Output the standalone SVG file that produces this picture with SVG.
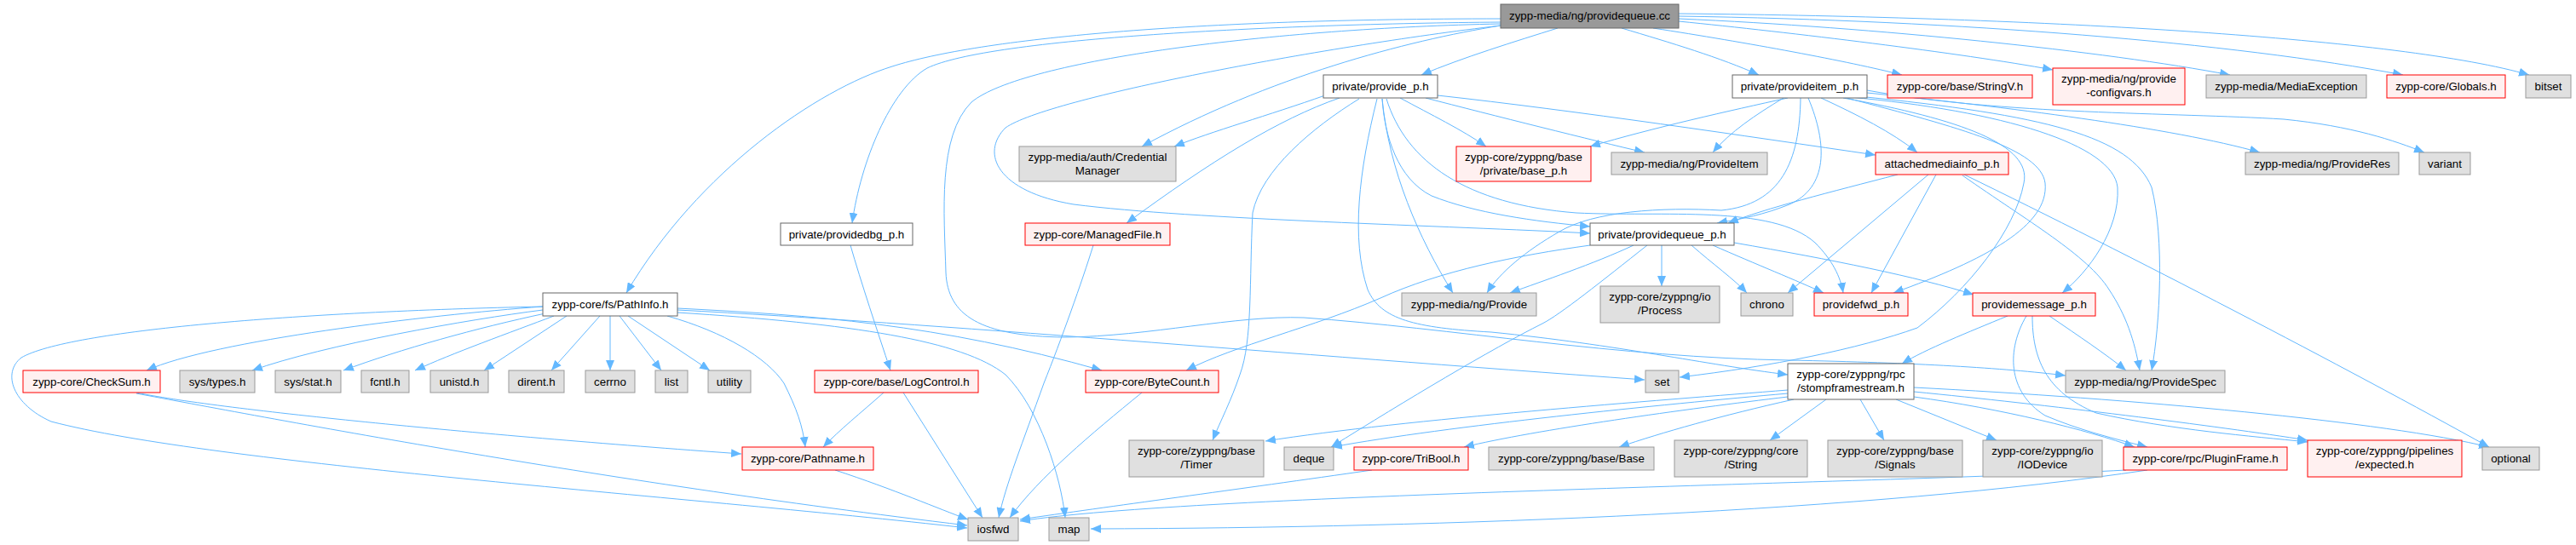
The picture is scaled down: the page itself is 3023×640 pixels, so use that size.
<svg xmlns="http://www.w3.org/2000/svg" width="3023" height="640" viewBox="0 0 3023 640">
<style>
.e{fill:none;stroke:#63b8ff;stroke-width:1;marker-end:url(#arr)}
.w rect{fill:#ffffff;stroke:#666666}
.g rect{fill:#e0e0e0;stroke:#999999}
.r rect{fill:#fff0f0;stroke:#ff0000}
.root rect{fill:#999999;stroke:#666666}
text{font-family:"Liberation Sans",Arial,Helvetica,sans-serif;font-size:13.33px;fill:#000000;text-anchor:middle}
</style>
<defs>
<marker id="arr" viewBox="0 0 12 10" refX="12" refY="5" markerWidth="12" markerHeight="10" markerUnits="userSpaceOnUse" orient="auto"><path d="M0,0L12,5L0,10z" fill="#63b8ff"/></marker>
</defs>
<rect width="3023" height="640" fill="#ffffff"/>
<g id="edges">
<path class="e" d="M1828,33 C1780,48 1715,68 1668,88"/>
<path class="e" d="M1903,33 C1960,50 2020,68 2064,88"/>
<path class="e" d="M1940,33 C2050,50 2170,72 2232,88"/>
<path class="e" d="M1970,25 C2100,38 2300,62 2409,82"/>
<path class="e" d="M1970,22 C2200,32 2470,60 2617,88"/>
<path class="e" d="M1970,19 C2300,24 2620,50 2820,88"/>
<path class="e" d="M1970,16 C2400,20 2820,45 2968,88"/>
<path class="e" d="M1761,30 C1650,48 1490,90 1340,172"/>
<path class="e" d="M1761,26 C1500,28 1160,45 1088,80 C1045,105 1010,190 1000,262"/>
<path class="e" d="M1761,22 C1400,22 1150,45 1047,78 C960,105 820,200 735,344"/>
<path class="e" d="M1761,30 C1550,55 1230,115 1180,150 C1150,180 1170,225 1260,240 C1400,258 1700,265 1866,274"/>
<path class="e" d="M1761,28 C1500,33 1200,70 1140,120 C1100,160 1108,250 1110,320 C1112,370 1150,395 1250,396 C1350,395 1450,370 1530,373 C1700,385 1900,420 2100,423 C2250,426 2350,432 2424,441"/>
<path class="e" d="M1555,112 C1490,135 1420,155 1378,172"/>
<path class="e" d="M1572,115 C1500,140 1420,190 1322,262"/>
<path class="e" d="M1595,116 C1540,150 1480,200 1470,250 C1466,330 1470,400 1455,440 C1445,470 1432,495 1423,517"/>
<path class="e" d="M1643,115 C1680,135 1715,152 1744,172"/>
<path class="e" d="M1673,115 C1750,135 1870,165 1930,179"/>
<path class="e" d="M1687,112 C1850,130 2050,160 2201,182"/>
<path class="e" d="M1622,116 C1625,160 1640,210 1680,230 C1730,250 1800,260 1866,266"/>
<path class="e" d="M1627,116 C1650,190 1720,240 1850,250 C1950,255 2080,240 2130,285 C2150,305 2160,325 2163,344"/>
<path class="e" d="M1622,116 C1630,200 1665,280 1705,344"/>
<path class="e" d="M1616,116 C1595,200 1585,280 1605,340 C1620,375 1660,385 1750,390 C1900,405 2000,428 2098,440"/>
<path class="e" d="M2098,115 C2030,130 1940,150 1866,172"/>
<path class="e" d="M2093,115 C2060,135 2030,155 2010,179"/>
<path class="e" d="M2113,115 C2112,190 2090,240 2020,247 C1950,243 1870,248 1830,272 C1790,295 1760,320 1745,344"/>
<path class="e" d="M2122,115 C2145,170 2145,220 2100,240 C2070,252 2045,257 2015,262"/>
<path class="e" d="M2137,115 C2180,135 2220,155 2250,179"/>
<path class="e" d="M2163,115 C2300,140 2385,170 2375,215 C2365,270 2310,340 2250,385 C2180,410 2080,430 1971,443"/>
<path class="e" d="M2167,115 C2300,150 2395,175 2400,215 C2405,265 2330,305 2222,344"/>
<path class="e" d="M2170,114 C2350,130 2480,170 2485,220 C2488,270 2450,320 2420,344"/>
<path class="e" d="M2180,113 C2400,135 2500,160 2525,220 C2540,280 2535,380 2525,435"/>
<path class="e" d="M2191,109 C2350,125 2550,150 2652,179"/>
<path class="e" d="M2191,106 C2350,135 2550,132 2680,140 C2760,148 2810,165 2845,179"/>
<path class="e" d="M2227,205 C2150,225 2070,245 2028,262"/>
<path class="e" d="M2263,205 L2098,344"/>
<path class="e" d="M2272,205 L2196,344"/>
<path class="e" d="M2303,206 C2380,260 2450,300 2475,340 C2495,370 2505,400 2511,435"/>
<path class="e" d="M2305,205 C2500,300 2750,430 2921,525"/>
<path class="e" d="M1917,288 C1870,310 1810,330 1772,344"/>
<path class="e" d="M1950,288 L1950,336"/>
<path class="e" d="M1985,288 C2010,310 2035,328 2050,344"/>
<path class="e" d="M2010,288 C2060,310 2110,330 2140,344"/>
<path class="e" d="M2035,285 C2150,305 2250,325 2316,346"/>
<path class="e" d="M1933,288 C1880,330 1830,370 1810,380 C1750,410 1650,470 1562,525"/>
<path class="e" d="M1866,288 C1780,300 1690,318 1620,350 C1540,385 1450,405 1392,435"/>
<path class="e" d="M2356,371 C2310,390 2260,410 2232,427"/>
<path class="e" d="M2405,371 C2440,395 2470,415 2495,435"/>
<path class="e" d="M2378,371 C2355,410 2355,460 2400,488 C2440,505 2480,515 2520,525"/>
<path class="e" d="M2385,371 C2385,420 2400,460 2460,485 C2550,505 2640,512 2708,519"/>
<path class="e" d="M2098,458 C1950,470 1650,492 1485,518"/>
<path class="e" d="M2098,462 C1950,475 1700,500 1563,525"/>
<path class="e" d="M2098,466 C1980,480 1800,505 1718,525"/>
<path class="e" d="M2105,469 C2020,488 1950,508 1900,525"/>
<path class="e" d="M2143,469 L2077,517"/>
<path class="e" d="M2183,469 L2211,517"/>
<path class="e" d="M2225,469 L2343,517"/>
<path class="e" d="M2246,466 C2350,480 2450,505 2505,525"/>
<path class="e" d="M2246,460 C2400,475 2600,500 2708,517"/>
<path class="e" d="M2246,455 C2500,468 2800,495 2921,525"/>
<path class="e" d="M2495,552 C2200,568 1400,580 1197,612"/>
<path class="e" d="M2520,552 C2200,600 1700,620 1280,621"/>
<path class="e" d="M1610,552 C1450,575 1300,595 1197,610"/>
<path class="e" d="M637,360 C500,370 250,400 172,435"/>
<path class="e" d="M637,364 C550,375 380,405 296,435"/>
<path class="e" d="M640,368 C560,385 470,410 403,435"/>
<path class="e" d="M650,371 C600,390 530,415 487,435"/>
<path class="e" d="M665,371 L568,435"/>
<path class="e" d="M704,371 L647,435"/>
<path class="e" d="M716,371 L716,435"/>
<path class="e" d="M727,371 L776,435"/>
<path class="e" d="M737,371 L833,435"/>
<path class="e" d="M783,371 C850,390 900,420 920,450 C935,480 942,500 945,525"/>
<path class="e" d="M795,362 C950,370 1100,380 1293,435"/>
<path class="e" d="M795,364 C1100,380 1500,415 1930,446"/>
<path class="e" d="M795,367 C1000,380 1130,400 1180,440 C1220,480 1245,560 1250,608"/>
<path class="e" d="M637,360 C350,366 80,388 25,420 C2,438 15,475 60,495 C250,545 800,582 1135,620"/>
<path class="e" d="M160,461 C250,480 550,510 870,533"/>
<path class="e" d="M160,462 C300,488 700,565 1135,617"/>
<path class="e" d="M980,552 C1050,575 1100,597 1136,610"/>
<path class="e" d="M1037,461 C1010,485 985,505 966,525"/>
<path class="e" d="M1060,461 L1153,608"/>
<path class="e" d="M998,288 C1010,330 1030,390 1045,435"/>
<path class="e" d="M1283,288 C1270,330 1245,400 1225,450 C1200,520 1180,570 1172,608"/>
<path class="e" d="M1340,461 C1280,510 1220,560 1185,608"/>
</g>
<g id="n_cc" class="root"><rect x="1761" y="5" width="209" height="28"/><text x="1865.5" y="23">zypp-media/ng/providequeue.cc</text></g>
<g id="n_provide_p" class="w"><rect x="1553" y="88" width="134" height="27"/><text x="1620" y="106">private/provide_p.h</text></g>
<g id="n_provideitem_p" class="w"><rect x="2033" y="88" width="158" height="27"/><text x="2112" y="106">private/provideitem_p.h</text></g>
<g id="n_stringv" class="r"><rect x="2215" y="88" width="170" height="27"/><text x="2300" y="106">zypp-core/base/StringV.h</text></g>
<g id="n_configvars" class="r"><rect x="2409" y="80" width="155" height="43"/><text x="2486.5" y="97">zypp-media/ng/provide</text><text x="2486.5" y="113">-configvars.h</text></g>
<g id="n_mediaexception" class="g"><rect x="2589" y="88" width="188" height="27"/><text x="2683" y="106">zypp-media/MediaException</text></g>
<g id="n_globals" class="r"><rect x="2801" y="88" width="139" height="27"/><text x="2870.5" y="106">zypp-core/Globals.h</text></g>
<g id="n_bitset" class="g"><rect x="2964" y="88" width="53" height="27"/><text x="2990.5" y="106">bitset</text></g>
<g id="n_credmgr" class="g"><rect x="1196" y="172" width="184" height="41"/><text x="1288" y="189">zypp-media/auth/Credential</text><text x="1288" y="205">Manager</text></g>
<g id="n_base_p" class="r"><rect x="1709" y="172" width="158" height="41"/><text x="1788" y="189">zypp-core/zyppng/base</text><text x="1788" y="205">/private/base_p.h</text></g>
<g id="n_provideitem" class="g"><rect x="1891" y="179" width="183" height="26"/><text x="1982.5" y="197">zypp-media/ng/ProvideItem</text></g>
<g id="n_attached" class="r"><rect x="2201" y="179" width="156" height="26"/><text x="2279" y="197">attachedmediainfo_p.h</text></g>
<g id="n_provideres" class="g"><rect x="2635" y="179" width="180" height="26"/><text x="2725" y="197">zypp-media/ng/ProvideRes</text></g>
<g id="n_variant" class="g"><rect x="2839" y="179" width="60" height="26"/><text x="2869" y="197">variant</text></g>
<g id="n_providedbg_p" class="w"><rect x="916" y="262" width="155" height="26"/><text x="993.5" y="280">private/providedbg_p.h</text></g>
<g id="n_managedfile" class="r"><rect x="1203" y="262" width="170" height="26"/><text x="1288" y="280">zypp-core/ManagedFile.h</text></g>
<g id="n_providequeue_p" class="w"><rect x="1866" y="262" width="169" height="26"/><text x="1950.5" y="280">private/providequeue_p.h</text></g>
<g id="n_pathinfo" class="w"><rect x="637" y="344" width="158" height="27"/><text x="716" y="362">zypp-core/fs/PathInfo.h</text></g>
<g id="n_provide" class="g"><rect x="1645" y="344" width="158" height="27"/><text x="1724" y="362">zypp-media/ng/Provide</text></g>
<g id="n_process" class="g"><rect x="1878" y="336" width="140" height="43"/><text x="1948" y="353">zypp-core/zyppng/io</text><text x="1948" y="369">/Process</text></g>
<g id="n_chrono" class="g"><rect x="2043" y="344" width="61" height="27"/><text x="2073.5" y="362">chrono</text></g>
<g id="n_providefwd_p" class="r"><rect x="2129" y="344" width="110" height="27"/><text x="2184" y="362">providefwd_p.h</text></g>
<g id="n_providemessage_p" class="r"><rect x="2315" y="344" width="144" height="27"/><text x="2387" y="362">providemessage_p.h</text></g>
<g id="n_checksum" class="r"><rect x="27" y="435" width="161" height="26"/><text x="107.5" y="453">zypp-core/CheckSum.h</text></g>
<g id="n_systypes" class="g"><rect x="211" y="435" width="88" height="26"/><text x="255" y="453">sys/types.h</text></g>
<g id="n_sysstat" class="g"><rect x="323" y="435" width="77" height="26"/><text x="361.5" y="453">sys/stat.h</text></g>
<g id="n_fcntl" class="g"><rect x="424" y="435" width="56" height="26"/><text x="452" y="453">fcntl.h</text></g>
<g id="n_unistd" class="g"><rect x="505" y="435" width="68" height="26"/><text x="539" y="453">unistd.h</text></g>
<g id="n_dirent" class="g"><rect x="597" y="435" width="65" height="26"/><text x="629.5" y="453">dirent.h</text></g>
<g id="n_cerrno" class="g"><rect x="687" y="435" width="58" height="26"/><text x="716" y="453">cerrno</text></g>
<g id="n_list" class="g"><rect x="769" y="435" width="38" height="26"/><text x="788" y="453">list</text></g>
<g id="n_utility" class="g"><rect x="831" y="435" width="50" height="26"/><text x="856" y="453">utility</text></g>
<g id="n_logcontrol" class="r"><rect x="956" y="435" width="192" height="26"/><text x="1052" y="453">zypp-core/base/LogControl.h</text></g>
<g id="n_bytecount" class="r"><rect x="1274" y="435" width="156" height="26"/><text x="1352" y="453">zypp-core/ByteCount.h</text></g>
<g id="n_set" class="g"><rect x="1931" y="435" width="39" height="26"/><text x="1950.5" y="453">set</text></g>
<g id="n_stomp" class="w"><rect x="2098" y="427" width="148" height="42"/><text x="2172" y="444">zypp-core/zyppng/rpc</text><text x="2172" y="460">/stompframestream.h</text></g>
<g id="n_providespec" class="g"><rect x="2424" y="435" width="187" height="26"/><text x="2517.5" y="453">zypp-media/ng/ProvideSpec</text></g>
<g id="n_pathname" class="r"><rect x="871" y="525" width="154" height="27"/><text x="948" y="543">zypp-core/Pathname.h</text></g>
<g id="n_timer" class="g"><rect x="1325" y="517" width="158" height="43"/><text x="1404" y="534">zypp-core/zyppng/base</text><text x="1404" y="550">/Timer</text></g>
<g id="n_deque" class="g"><rect x="1507" y="525" width="58" height="27"/><text x="1536" y="543">deque</text></g>
<g id="n_tribool" class="r"><rect x="1589" y="525" width="134" height="27"/><text x="1656" y="543">zypp-core/TriBool.h</text></g>
<g id="n_base" class="g"><rect x="1747" y="525" width="194" height="27"/><text x="1844" y="543">zypp-core/zyppng/base/Base</text></g>
<g id="n_string" class="g"><rect x="1965" y="517" width="156" height="43"/><text x="2043" y="534">zypp-core/zyppng/core</text><text x="2043" y="550">/String</text></g>
<g id="n_signals" class="g"><rect x="2145" y="517" width="158" height="43"/><text x="2224" y="534">zypp-core/zyppng/base</text><text x="2224" y="550">/Signals</text></g>
<g id="n_iodevice" class="g"><rect x="2327" y="517" width="140" height="43"/><text x="2397" y="534">zypp-core/zyppng/io</text><text x="2397" y="550">/IODevice</text></g>
<g id="n_pluginframe" class="r"><rect x="2492" y="525" width="192" height="27"/><text x="2588" y="543">zypp-core/rpc/PluginFrame.h</text></g>
<g id="n_expected" class="r"><rect x="2708" y="517" width="181" height="43"/><text x="2798.5" y="534">zypp-core/zyppng/pipelines</text><text x="2798.5" y="550">/expected.h</text></g>
<g id="n_optional" class="g"><rect x="2913" y="525" width="67" height="27"/><text x="2946.5" y="543">optional</text></g>
<g id="n_iosfwd" class="g"><rect x="1136" y="608" width="59" height="27"/><text x="1165.5" y="626">iosfwd</text></g>
<g id="n_map" class="g"><rect x="1231" y="608" width="47" height="27"/><text x="1254.5" y="626">map</text></g>
</svg>
